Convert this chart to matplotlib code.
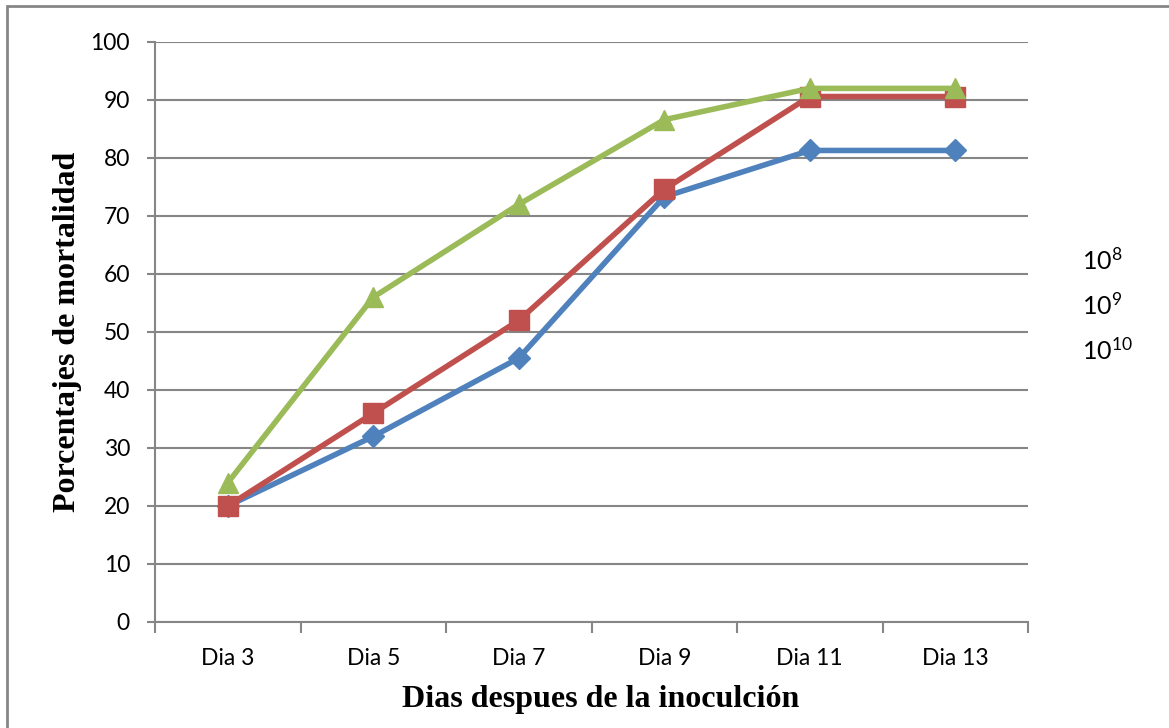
import matplotlib.pyplot as plt
import matplotlib.patches as patches
import numpy as np

# valeurs
dias = ['Dia 3', 'Dia 5', 'Dia 7', 'Dia 9', 'Dia 11', 'Dia 13']
serie_1e8 = [20, 32, 45.5, 73.3, 81.3, 81.3]
serie_1e9 = [20, 36, 52, 74.6, 90.6, 90.6]
serie_1e10 = [24, 56, 72, 86.6, 92, 92]
leyenda = [r'$\mathregular{10^{8}}$', r'$\mathregular{10^{9}}$', r'$\mathregular{10^{10}}$']

fig = plt.figure(figsize=(11.69, 7.28), dpi=100)
ax = fig.add_axes([155/1169, 1 - 622/728, 873/1169, 580/728])

x = np.arange(len(dias))
gris = '#868686'

ax.plot(x, serie_1e8, color='#4F81BD', lw=4, marker='D', ms=11, zorder=3)
ax.plot(x, serie_1e9, color='#C0504D', lw=4, marker='s', ms=14, zorder=4)
ax.plot(x, serie_1e10, color='#9BBB59', lw=4, marker='^', ms=14, zorder=5)

ax.set_xlim(-0.5, len(dias) - 0.5)
ax.set_ylim(0, 100)
ax.set_yticks(np.arange(0, 101, 10))
ax.yaxis.grid(True, color=gris, lw=1.5, zorder=0)
ax.set_axisbelow(True)

ax.set_xticks(x)
ax.set_xticklabels(dias)
ax.set_xticks(np.arange(-0.5, len(dias), 1), minor=True)
ax.tick_params(axis='x', which='major', length=0, pad=19, labelsize=16.5)
ax.tick_params(axis='x', which='minor', length=8, width=1.5, color=gris)
ax.tick_params(axis='y', length=6, width=1.5, color=gris, pad=12, labelsize=16.5)
for lab in ax.get_xticklabels() + ax.get_yticklabels():
    lab.set_fontfamily('Lato')

for s in ['top', 'right']:
    ax.spines[s].set_visible(False)
for s in ['left', 'bottom']:
    ax.spines[s].set_color(gris)
    ax.spines[s].set_linewidth(1.5)

ax.set_xlabel('Dias despues de la inoculción', fontfamily='Liberation Serif',
              fontweight='bold', fontsize=23)
ax.xaxis.set_label_coords(0.51, -0.108)
ax.set_ylabel('Porcentajes de mortalidad', fontfamily='Liberation Serif',
              fontweight='bold', fontsize=23, labelpad=6)

# leyenda sin marcadores, solo texto
for i, t in enumerate(leyenda):
    fig.text(1082/1169, 1 - (260 + i*45)/728, t, fontfamily='Lato', fontsize=18,
             va='center', ha='left')

# marco exterior
fig.patches.append(patches.Rectangle((7/1169, -0.1), 1.2, 1 - 6/728 + 0.1,
                                     transform=fig.transFigure, fill=False,
                                     edgecolor=gris, lw=2))

fig.savefig('out.png', dpi=100)
